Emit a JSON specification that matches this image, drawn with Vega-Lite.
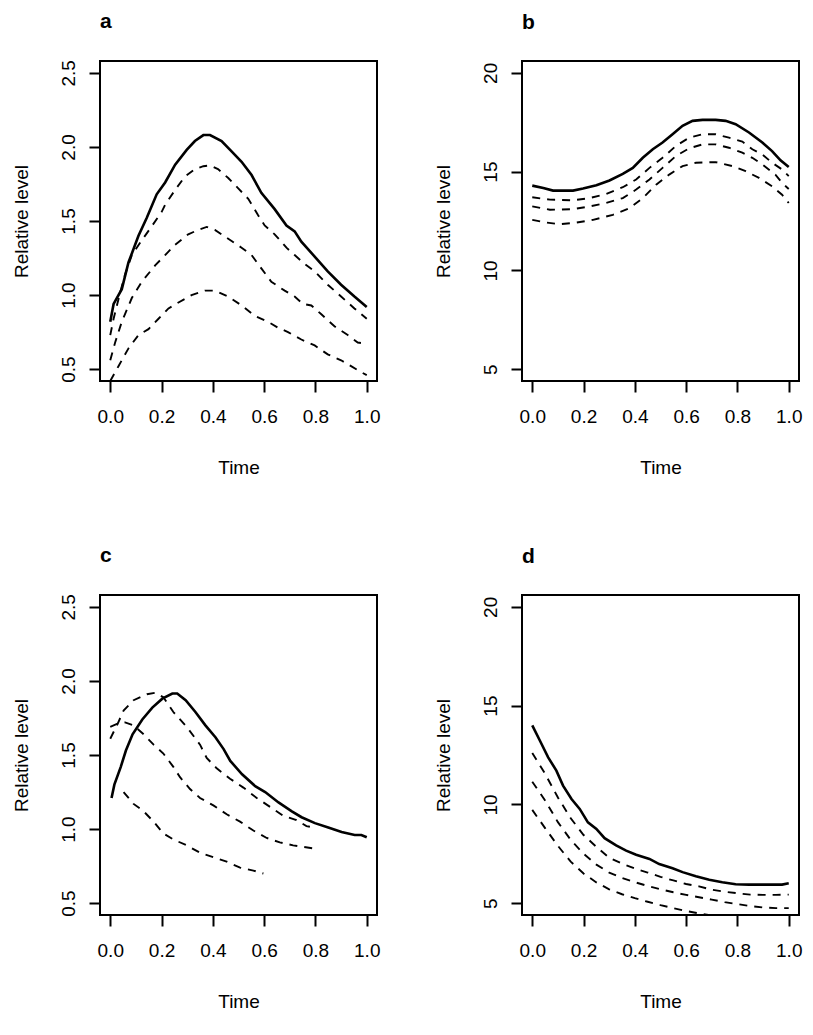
{
  "$schema": "https://vega.github.io/schema/vega-lite/v6.json",
  "autosize": {"type": "pad"},
  "padding": {"left": 11, "top": 9, "right": 10, "bottom": 10},
  "background": "white",
  "config": {
    "font": "Liberation Sans",
    "view": {"stroke": "black", "strokeWidth": 2},
    "axis": {"domain": false, "grid": false, "tickColor": "black", "tickWidth": 2, "tickSize": 11,
      "labelColor": "black", "labelFont": "Liberation Sans", "labelFontSize": 19, "labelFlush": false, "labelOverlap": false,
      "titleFont": "Liberation Sans", "titleFontSize": 19, "titleFontWeight": "normal", "titleColor": "black"},
    "axisX": {"labelPadding": 15, "labelBaseline": "top", "labelAngle": 0, "titleY": 92, "titleBaseline": "alphabetic"},
    "axisY": {"labelAngle": 270, "labelAlign": "center", "labelBaseline": "alphabetic", "labelPadding": 15,
      "titleX": -73, "titleY": 160, "titleAngle": 270, "titleAlign": "center", "titleBaseline": "alphabetic"},
    "title": {"anchor": "start", "frame": "group", "fontSize": 21, "fontWeight": "bold", "font": "Liberation Sans", "color": "black", "baseline": "alphabetic", "offset": 28}
  },
  "datasets": {
    "curves": [
      {"panel":"a","series":"solid","time":0,"level":0.82},{"panel":"a","series":"solid","time":0.013,"level":0.94},{"panel":"a","series":"solid","time":0.045,"level":1.04},{"panel":"a","series":"solid","time":0.071,"level":1.22},{"panel":"a","series":"solid","time":0.11,"level":1.4},{"panel":"a","series":"solid","time":0.142,"level":1.52},{"panel":"a","series":"solid","time":0.181,"level":1.68},{"panel":"a","series":"solid","time":0.214,"level":1.76},{"panel":"a","series":"solid","time":0.253,"level":1.88},{"panel":"a","series":"solid","time":0.298,"level":1.98},{"panel":"a","series":"solid","time":0.33,"level":2.04},{"panel":"a","series":"solid","time":0.363,"level":2.08},{"panel":"a","series":"solid","time":0.389,"level":2.08},{"panel":"a","series":"solid","time":0.434,"level":2.04},{"panel":"a","series":"solid","time":0.473,"level":1.97},{"panel":"a","series":"solid","time":0.512,"level":1.9},{"panel":"a","series":"solid","time":0.551,"level":1.81},{"panel":"a","series":"solid","time":0.589,"level":1.69},{"panel":"a","series":"solid","time":0.641,"level":1.58},{"panel":"a","series":"solid","time":0.687,"level":1.47},{"panel":"a","series":"solid","time":0.719,"level":1.43},{"panel":"a","series":"solid","time":0.745,"level":1.36},{"panel":"a","series":"solid","time":0.797,"level":1.26},{"panel":"a","series":"solid","time":0.848,"level":1.16},{"panel":"a","series":"solid","time":0.9,"level":1.07},{"panel":"a","series":"solid","time":0.952,"level":0.99},{"panel":"a","series":"solid","time":1.0,"level":0.92},
      {"panel":"a","series":"d1","time":0,"level":0.73},{"panel":"a","series":"d1","time":0.013,"level":0.84},{"panel":"a","series":"d1","time":0.039,"level":1.02},{"panel":"a","series":"d1","time":0.058,"level":1.14},{"panel":"a","series":"d1","time":0.084,"level":1.27},{"panel":"a","series":"d1","time":0.123,"level":1.37},{"panel":"a","series":"d1","time":0.16,"level":1.46},{"panel":"a","series":"d1","time":0.2,"level":1.56},{"panel":"a","series":"d1","time":0.214,"level":1.61},{"panel":"a","series":"d1","time":0.253,"level":1.71},{"panel":"a","series":"d1","time":0.291,"level":1.8},{"panel":"a","series":"d1","time":0.33,"level":1.85},{"panel":"a","series":"d1","time":0.363,"level":1.87},{"panel":"a","series":"d1","time":0.389,"level":1.875},{"panel":"a","series":"d1","time":0.42,"level":1.85},{"panel":"a","series":"d1","time":0.46,"level":1.79},{"panel":"a","series":"d1","time":0.499,"level":1.72},{"panel":"a","series":"d1","time":0.538,"level":1.65},{"panel":"a","series":"d1","time":0.576,"level":1.54},{"panel":"a","series":"d1","time":0.602,"level":1.47},{"panel":"a","series":"d1","time":0.641,"level":1.41},{"panel":"a","series":"d1","time":0.687,"level":1.32},{"panel":"a","series":"d1","time":0.719,"level":1.27},{"panel":"a","series":"d1","time":0.758,"level":1.21},{"panel":"a","series":"d1","time":0.797,"level":1.16},{"panel":"a","series":"d1","time":0.848,"level":1.07},{"panel":"a","series":"d1","time":0.9,"level":0.99},{"panel":"a","series":"d1","time":0.952,"level":0.91},{"panel":"a","series":"d1","time":1.0,"level":0.84},
      {"panel":"a","series":"d2","time":0,"level":0.56},{"panel":"a","series":"d2","time":0.019,"level":0.68},{"panel":"a","series":"d2","time":0.045,"level":0.82},{"panel":"a","series":"d2","time":0.084,"level":0.98},{"panel":"a","series":"d2","time":0.123,"level":1.09},{"panel":"a","series":"d2","time":0.175,"level":1.2},{"panel":"a","series":"d2","time":0.214,"level":1.27},{"panel":"a","series":"d2","time":0.253,"level":1.34},{"panel":"a","series":"d2","time":0.304,"level":1.41},{"panel":"a","series":"d2","time":0.343,"level":1.44},{"panel":"a","series":"d2","time":0.376,"level":1.46},{"panel":"a","series":"d2","time":0.408,"level":1.44},{"panel":"a","series":"d2","time":0.46,"level":1.38},{"panel":"a","series":"d2","time":0.512,"level":1.32},{"panel":"a","series":"d2","time":0.551,"level":1.27},{"panel":"a","series":"d2","time":0.589,"level":1.18},{"panel":"a","series":"d2","time":0.628,"level":1.09},{"panel":"a","series":"d2","time":0.68,"level":1.03},{"panel":"a","series":"d2","time":0.719,"level":0.99},{"panel":"a","series":"d2","time":0.751,"level":0.94},{"panel":"a","series":"d2","time":0.784,"level":0.93},{"panel":"a","series":"d2","time":0.823,"level":0.87},{"panel":"a","series":"d2","time":0.874,"level":0.79},{"panel":"a","series":"d2","time":0.926,"level":0.73},{"panel":"a","series":"d2","time":0.965,"level":0.68},{"panel":"a","series":"d2","time":1.0,"level":0.67},
      {"panel":"a","series":"d3","time":0,"level":0.42},{"panel":"a","series":"d3","time":0.032,"level":0.52},{"panel":"a","series":"d3","time":0.071,"level":0.64},{"panel":"a","series":"d3","time":0.11,"level":0.73},{"panel":"a","series":"d3","time":0.149,"level":0.77},{"panel":"a","series":"d3","time":0.188,"level":0.84},{"panel":"a","series":"d3","time":0.227,"level":0.91},{"panel":"a","series":"d3","time":0.266,"level":0.95},{"panel":"a","series":"d3","time":0.317,"level":1.0},{"panel":"a","series":"d3","time":0.369,"level":1.03},{"panel":"a","series":"d3","time":0.408,"level":1.03},{"panel":"a","series":"d3","time":0.46,"level":0.99},{"panel":"a","series":"d3","time":0.512,"level":0.93},{"panel":"a","series":"d3","time":0.563,"level":0.86},{"panel":"a","series":"d3","time":0.615,"level":0.82},{"panel":"a","series":"d3","time":0.654,"level":0.78},{"panel":"a","series":"d3","time":0.693,"level":0.75},{"panel":"a","series":"d3","time":0.745,"level":0.7},{"panel":"a","series":"d3","time":0.797,"level":0.66},{"panel":"a","series":"d3","time":0.848,"level":0.6},{"panel":"a","series":"d3","time":0.9,"level":0.56},{"panel":"a","series":"d3","time":0.939,"level":0.52},{"panel":"a","series":"d3","time":0.978,"level":0.48},{"panel":"a","series":"d3","time":1.0,"level":0.46},

      {"panel":"b","series":"solid","time":0,"level":14.29},{"panel":"b","series":"solid","time":0.043,"level":14.17},{"panel":"b","series":"solid","time":0.081,"level":14.04},{"panel":"b","series":"solid","time":0.159,"level":14.04},{"panel":"b","series":"solid","time":0.198,"level":14.14},{"panel":"b","series":"solid","time":0.25,"level":14.31},{"panel":"b","series":"solid","time":0.301,"level":14.55},{"panel":"b","series":"solid","time":0.353,"level":14.89},{"panel":"b","series":"solid","time":0.392,"level":15.19},{"panel":"b","series":"solid","time":0.431,"level":15.7},{"panel":"b","series":"solid","time":0.47,"level":16.13},{"panel":"b","series":"solid","time":0.508,"level":16.47},{"panel":"b","series":"solid","time":0.547,"level":16.89},{"panel":"b","series":"solid","time":0.586,"level":17.32},{"panel":"b","series":"solid","time":0.625,"level":17.57},{"panel":"b","series":"solid","time":0.664,"level":17.62},{"panel":"b","series":"solid","time":0.715,"level":17.62},{"panel":"b","series":"solid","time":0.754,"level":17.57},{"panel":"b","series":"solid","time":0.793,"level":17.4},{"panel":"b","series":"solid","time":0.845,"level":16.98},{"panel":"b","series":"solid","time":0.897,"level":16.47},{"panel":"b","series":"solid","time":0.935,"level":16.04},{"panel":"b","series":"solid","time":0.968,"level":15.57},{"panel":"b","series":"solid","time":1.0,"level":15.23},
      {"panel":"b","series":"d1","time":0,"level":13.7},{"panel":"b","series":"d1","time":0.069,"level":13.58},{"panel":"b","series":"d1","time":0.159,"level":13.55},{"panel":"b","series":"d1","time":0.224,"level":13.66},{"panel":"b","series":"d1","time":0.288,"level":13.87},{"panel":"b","series":"d1","time":0.353,"level":14.21},{"panel":"b","series":"d1","time":0.405,"level":14.6},{"panel":"b","series":"d1","time":0.457,"level":15.19},{"panel":"b","series":"d1","time":0.508,"level":15.7},{"panel":"b","series":"d1","time":0.56,"level":16.3},{"panel":"b","series":"d1","time":0.612,"level":16.72},{"panel":"b","series":"d1","time":0.664,"level":16.89},{"panel":"b","series":"d1","time":0.715,"level":16.89},{"panel":"b","series":"d1","time":0.767,"level":16.72},{"panel":"b","series":"d1","time":0.819,"level":16.52},{"panel":"b","series":"d1","time":0.858,"level":16.13},{"panel":"b","series":"d1","time":0.897,"level":15.87},{"panel":"b","series":"d1","time":0.935,"level":15.45},{"panel":"b","series":"d1","time":0.974,"level":15.11},{"panel":"b","series":"d1","time":1.0,"level":14.77},
      {"panel":"b","series":"d2","time":0,"level":13.24},{"panel":"b","series":"d2","time":0.069,"level":13.07},{"panel":"b","series":"d2","time":0.159,"level":13.1},{"panel":"b","series":"d2","time":0.224,"level":13.24},{"panel":"b","series":"d2","time":0.288,"level":13.41},{"panel":"b","series":"d2","time":0.353,"level":13.66},{"panel":"b","series":"d2","time":0.405,"level":14.09},{"panel":"b","series":"d2","time":0.457,"level":14.6},{"panel":"b","series":"d2","time":0.508,"level":15.19},{"panel":"b","series":"d2","time":0.56,"level":15.79},{"panel":"b","series":"d2","time":0.612,"level":16.18},{"panel":"b","series":"d2","time":0.664,"level":16.38},{"panel":"b","series":"d2","time":0.715,"level":16.38},{"panel":"b","series":"d2","time":0.767,"level":16.21},{"panel":"b","series":"d2","time":0.819,"level":15.96},{"panel":"b","series":"d2","time":0.858,"level":15.7},{"panel":"b","series":"d2","time":0.897,"level":15.36},{"panel":"b","series":"d2","time":0.948,"level":14.85},{"panel":"b","series":"d2","time":0.974,"level":14.43},{"panel":"b","series":"d2","time":1.0,"level":14.12},
      {"panel":"b","series":"d3","time":0,"level":12.56},{"panel":"b","series":"d3","time":0.056,"level":12.42},{"panel":"b","series":"d3","time":0.107,"level":12.34},{"panel":"b","series":"d3","time":0.172,"level":12.42},{"panel":"b","series":"d3","time":0.237,"level":12.56},{"panel":"b","series":"d3","time":0.314,"level":12.81},{"panel":"b","series":"d3","time":0.379,"level":13.15},{"panel":"b","series":"d3","time":0.431,"level":13.66},{"panel":"b","series":"d3","time":0.483,"level":14.34},{"panel":"b","series":"d3","time":0.534,"level":14.85},{"panel":"b","series":"d3","time":0.586,"level":15.28},{"panel":"b","series":"d3","time":0.638,"level":15.45},{"panel":"b","series":"d3","time":0.715,"level":15.48},{"panel":"b","series":"d3","time":0.78,"level":15.28},{"panel":"b","series":"d3","time":0.832,"level":15.02},{"panel":"b","series":"d3","time":0.884,"level":14.68},{"panel":"b","series":"d3","time":0.935,"level":14.26},{"panel":"b","series":"d3","time":0.974,"level":13.83},{"panel":"b","series":"d3","time":1.0,"level":13.41},

      {"panel":"c","series":"solid","time":0.005,"level":1.21},{"panel":"c","series":"solid","time":0.016,"level":1.3},{"panel":"c","series":"solid","time":0.041,"level":1.42},{"panel":"c","series":"solid","time":0.061,"level":1.53},{"panel":"c","series":"solid","time":0.087,"level":1.64},{"panel":"c","series":"solid","time":0.125,"level":1.74},{"panel":"c","series":"solid","time":0.164,"level":1.82},{"panel":"c","series":"solid","time":0.203,"level":1.88},{"panel":"c","series":"solid","time":0.242,"level":1.915},{"panel":"c","series":"solid","time":0.261,"level":1.915},{"panel":"c","series":"solid","time":0.294,"level":1.87},{"panel":"c","series":"solid","time":0.332,"level":1.79},{"panel":"c","series":"solid","time":0.371,"level":1.7},{"panel":"c","series":"solid","time":0.41,"level":1.62},{"panel":"c","series":"solid","time":0.442,"level":1.54},{"panel":"c","series":"solid","time":0.468,"level":1.46},{"panel":"c","series":"solid","time":0.514,"level":1.37},{"panel":"c","series":"solid","time":0.565,"level":1.29},{"panel":"c","series":"solid","time":0.604,"level":1.25},{"panel":"c","series":"solid","time":0.656,"level":1.18},{"panel":"c","series":"solid","time":0.708,"level":1.12},{"panel":"c","series":"solid","time":0.746,"level":1.08},{"panel":"c","series":"solid","time":0.798,"level":1.04},{"panel":"c","series":"solid","time":0.85,"level":1.01},{"panel":"c","series":"solid","time":0.902,"level":0.98},{"panel":"c","series":"solid","time":0.953,"level":0.96},{"panel":"c","series":"solid","time":0.979,"level":0.96},{"panel":"c","series":"solid","time":1.0,"level":0.945},
      {"panel":"c","series":"d1","time":0,"level":1.61},{"panel":"c","series":"d1","time":0.026,"level":1.7},{"panel":"c","series":"d1","time":0.052,"level":1.8},{"panel":"c","series":"d1","time":0.091,"level":1.87},{"panel":"c","series":"d1","time":0.143,"level":1.91},{"panel":"c","series":"d1","time":0.175,"level":1.92},{"panel":"c","series":"d1","time":0.207,"level":1.89},{"panel":"c","series":"d1","time":0.246,"level":1.79},{"panel":"c","series":"d1","time":0.298,"level":1.69},{"panel":"c","series":"d1","time":0.35,"level":1.57},{"panel":"c","series":"d1","time":0.376,"level":1.48},{"panel":"c","series":"d1","time":0.415,"level":1.41},{"panel":"c","series":"d1","time":0.467,"level":1.34},{"panel":"c","series":"d1","time":0.519,"level":1.28},{"panel":"c","series":"d1","time":0.571,"level":1.21},{"panel":"c","series":"d1","time":0.623,"level":1.15},{"panel":"c","series":"d1","time":0.674,"level":1.09},{"panel":"c","series":"d1","time":0.726,"level":1.06},{"panel":"c","series":"d1","time":0.765,"level":1.02},{"panel":"c","series":"d1","time":0.798,"level":1.01},
      {"panel":"c","series":"d2","time":0,"level":1.69},{"panel":"c","series":"d2","time":0.026,"level":1.71},{"panel":"c","series":"d2","time":0.058,"level":1.72},{"panel":"c","series":"d2","time":0.091,"level":1.7},{"panel":"c","series":"d2","time":0.13,"level":1.64},{"panel":"c","series":"d2","time":0.169,"level":1.57},{"panel":"c","series":"d2","time":0.207,"level":1.51},{"panel":"c","series":"d2","time":0.246,"level":1.42},{"panel":"c","series":"d2","time":0.272,"level":1.35},{"panel":"c","series":"d2","time":0.311,"level":1.27},{"panel":"c","series":"d2","time":0.35,"level":1.21},{"panel":"c","series":"d2","time":0.402,"level":1.16},{"panel":"c","series":"d2","time":0.454,"level":1.1},{"panel":"c","series":"d2","time":0.506,"level":1.05},{"panel":"c","series":"d2","time":0.558,"level":0.99},{"panel":"c","series":"d2","time":0.61,"level":0.94},{"panel":"c","series":"d2","time":0.661,"level":0.91},{"panel":"c","series":"d2","time":0.713,"level":0.89},{"panel":"c","series":"d2","time":0.752,"level":0.88},{"panel":"c","series":"d2","time":0.791,"level":0.87},
      {"panel":"c","series":"d3","time":0.052,"level":1.25},{"panel":"c","series":"d3","time":0.091,"level":1.17},{"panel":"c","series":"d3","time":0.13,"level":1.12},{"panel":"c","series":"d3","time":0.169,"level":1.05},{"panel":"c","series":"d3","time":0.207,"level":0.97},{"panel":"c","series":"d3","time":0.246,"level":0.93},{"panel":"c","series":"d3","time":0.298,"level":0.89},{"panel":"c","series":"d3","time":0.35,"level":0.84},{"panel":"c","series":"d3","time":0.402,"level":0.81},{"panel":"c","series":"d3","time":0.454,"level":0.78},{"panel":"c","series":"d3","time":0.506,"level":0.74},{"panel":"c","series":"d3","time":0.558,"level":0.72},{"panel":"c","series":"d3","time":0.597,"level":0.7},

      {"panel":"d","series":"solid","time":0,"level":14.0},{"panel":"d","series":"solid","time":0.03,"level":13.22},{"panel":"d","series":"solid","time":0.062,"level":12.38},{"panel":"d","series":"solid","time":0.094,"level":11.71},{"panel":"d","series":"solid","time":0.12,"level":10.95},{"panel":"d","series":"solid","time":0.153,"level":10.27},{"panel":"d","series":"solid","time":0.185,"level":9.77},{"panel":"d","series":"solid","time":0.217,"level":9.09},{"panel":"d","series":"solid","time":0.25,"level":8.76},{"panel":"d","series":"solid","time":0.282,"level":8.29},{"panel":"d","series":"solid","time":0.327,"level":7.92},{"panel":"d","series":"solid","time":0.366,"level":7.66},{"panel":"d","series":"solid","time":0.405,"level":7.45},{"panel":"d","series":"solid","time":0.457,"level":7.24},{"panel":"d","series":"solid","time":0.495,"level":6.98},{"panel":"d","series":"solid","time":0.547,"level":6.77},{"panel":"d","series":"solid","time":0.586,"level":6.57},{"panel":"d","series":"solid","time":0.638,"level":6.36},{"panel":"d","series":"solid","time":0.69,"level":6.18},{"panel":"d","series":"solid","time":0.741,"level":6.06},{"panel":"d","series":"solid","time":0.793,"level":5.96},{"panel":"d","series":"solid","time":0.845,"level":5.94},{"panel":"d","series":"solid","time":0.922,"level":5.94},{"panel":"d","series":"solid","time":0.974,"level":5.94},{"panel":"d","series":"solid","time":1.0,"level":6.01},
      {"panel":"d","series":"d1","time":0,"level":12.6},{"panel":"d","series":"d1","time":0.05,"level":11.55},{"panel":"d","series":"d1","time":0.1,"level":10.35},{"panel":"d","series":"d1","time":0.15,"level":9.3},{"panel":"d","series":"d1","time":0.2,"level":8.45},{"panel":"d","series":"d1","time":0.25,"level":7.85},{"panel":"d","series":"d1","time":0.3,"level":7.3},{"panel":"d","series":"d1","time":0.35,"level":7.0},{"panel":"d","series":"d1","time":0.4,"level":6.75},{"panel":"d","series":"d1","time":0.45,"level":6.55},{"panel":"d","series":"d1","time":0.5,"level":6.33},{"panel":"d","series":"d1","time":0.55,"level":6.15},{"panel":"d","series":"d1","time":0.6,"level":5.97},{"panel":"d","series":"d1","time":0.65,"level":5.85},{"panel":"d","series":"d1","time":0.7,"level":5.68},{"panel":"d","series":"d1","time":0.75,"level":5.58},{"panel":"d","series":"d1","time":0.8,"level":5.5},{"panel":"d","series":"d1","time":0.85,"level":5.43},{"panel":"d","series":"d1","time":0.9,"level":5.42},{"panel":"d","series":"d1","time":0.95,"level":5.42},{"panel":"d","series":"d1","time":1.0,"level":5.43},
      {"panel":"d","series":"d2","time":0,"level":11.15},{"panel":"d","series":"d2","time":0.05,"level":10.2},{"panel":"d","series":"d2","time":0.1,"level":9.1},{"panel":"d","series":"d2","time":0.15,"level":8.2},{"panel":"d","series":"d2","time":0.2,"level":7.5},{"panel":"d","series":"d2","time":0.25,"level":6.95},{"panel":"d","series":"d2","time":0.3,"level":6.55},{"panel":"d","series":"d2","time":0.35,"level":6.28},{"panel":"d","series":"d2","time":0.4,"level":6.06},{"panel":"d","series":"d2","time":0.45,"level":5.87},{"panel":"d","series":"d2","time":0.5,"level":5.7},{"panel":"d","series":"d2","time":0.55,"level":5.55},{"panel":"d","series":"d2","time":0.6,"level":5.42},{"panel":"d","series":"d2","time":0.65,"level":5.3},{"panel":"d","series":"d2","time":0.7,"level":5.18},{"panel":"d","series":"d2","time":0.75,"level":5.05},{"panel":"d","series":"d2","time":0.8,"level":4.95},{"panel":"d","series":"d2","time":0.85,"level":4.85},{"panel":"d","series":"d2","time":0.9,"level":4.78},{"panel":"d","series":"d2","time":0.95,"level":4.75},{"panel":"d","series":"d2","time":1.0,"level":4.75},
      {"panel":"d","series":"d3","time":0,"level":9.72},{"panel":"d","series":"d3","time":0.05,"level":8.8},{"panel":"d","series":"d3","time":0.1,"level":7.9},{"panel":"d","series":"d3","time":0.15,"level":7.1},{"panel":"d","series":"d3","time":0.2,"level":6.5},{"panel":"d","series":"d3","time":0.25,"level":6.05},{"panel":"d","series":"d3","time":0.3,"level":5.7},{"panel":"d","series":"d3","time":0.35,"level":5.45},{"panel":"d","series":"d3","time":0.4,"level":5.25},{"panel":"d","series":"d3","time":0.45,"level":5.07},{"panel":"d","series":"d3","time":0.5,"level":4.9},{"panel":"d","series":"d3","time":0.55,"level":4.75},{"panel":"d","series":"d3","time":0.6,"level":4.6},{"panel":"d","series":"d3","time":0.65,"level":4.48},{"panel":"d","series":"d3","time":0.7,"level":4.38},{"panel":"d","series":"d3","time":0.75,"level":4.3},{"panel":"d","series":"d3","time":0.8,"level":4.22},{"panel":"d","series":"d3","time":0.9,"level":4.12},{"panel":"d","series":"d3","time":1.0,"level":4.08}
    ]
  },
  "columns": 2,
  "spacing": {"row": 214, "column": 145},
  "bounds": "flush",
  "concat": [
    {
      "title": {"text": "a"},
      "width": 277, "height": 320,
      "data": {"name": "curves"},
      "transform": [{"filter": "datum.panel === 'a'"}],
      "encoding": {
        "x": {"field": "time", "type": "quantitative", "scale": {"domain": [-0.04, 1.04], "nice": false, "zero": false}, "axis": {"values": [0, 0.2, 0.4, 0.6, 0.8, 1.0], "format": ".1f", "title": "Time"}},
        "y": {"field": "level", "type": "quantitative", "scale": {"domain": [0.42, 2.58], "nice": false, "zero": false}, "axis": {"values": [0.5, 1.0, 1.5, 2.0, 2.5], "format": ".1f", "title": "Relative level"}}
      },
      "layer": [
        {"transform": [{"filter": "datum.series === 'solid'"}], "mark": {"type": "line", "color": "black", "strokeWidth": 2.6, "clip": true}},
        {"transform": [{"filter": "datum.series !== 'solid'"}], "mark": {"type": "line", "color": "black", "strokeWidth": 1.9, "strokeDash": [8, 7], "clip": true}, "encoding": {"detail": {"field": "series"}}}
      ]
    },
    {
      "title": {"text": "b"},
      "width": 277, "height": 320,
      "data": {"name": "curves"},
      "transform": [{"filter": "datum.panel === 'b'"}],
      "encoding": {
        "x": {"field": "time", "type": "quantitative", "scale": {"domain": [-0.04, 1.04], "nice": false, "zero": false}, "axis": {"values": [0, 0.2, 0.4, 0.6, 0.8, 1.0], "format": ".1f", "title": "Time"}},
        "y": {"field": "level", "type": "quantitative", "scale": {"domain": [4.4, 20.6], "nice": false, "zero": false}, "axis": {"values": [5, 10, 15, 20], "format": "d", "title": "Relative level"}}
      },
      "layer": [
        {"transform": [{"filter": "datum.series === 'solid'"}], "mark": {"type": "line", "color": "black", "strokeWidth": 2.6, "clip": true}},
        {"transform": [{"filter": "datum.series !== 'solid'"}], "mark": {"type": "line", "color": "black", "strokeWidth": 1.9, "strokeDash": [8, 7], "clip": true}, "encoding": {"detail": {"field": "series"}}}
      ]
    },
    {
      "title": {"text": "c"},
      "width": 277, "height": 320,
      "data": {"name": "curves"},
      "transform": [{"filter": "datum.panel === 'c'"}],
      "encoding": {
        "x": {"field": "time", "type": "quantitative", "scale": {"domain": [-0.04, 1.04], "nice": false, "zero": false}, "axis": {"values": [0, 0.2, 0.4, 0.6, 0.8, 1.0], "format": ".1f", "title": "Time"}},
        "y": {"field": "level", "type": "quantitative", "scale": {"domain": [0.42, 2.58], "nice": false, "zero": false}, "axis": {"values": [0.5, 1.0, 1.5, 2.0, 2.5], "format": ".1f", "title": "Relative level"}}
      },
      "layer": [
        {"transform": [{"filter": "datum.series === 'solid'"}], "mark": {"type": "line", "color": "black", "strokeWidth": 2.6, "clip": true}},
        {"transform": [{"filter": "datum.series !== 'solid'"}], "mark": {"type": "line", "color": "black", "strokeWidth": 1.9, "strokeDash": [8, 7], "clip": true}, "encoding": {"detail": {"field": "series"}}}
      ]
    },
    {
      "title": {"text": "d"},
      "width": 277, "height": 320,
      "data": {"name": "curves"},
      "transform": [{"filter": "datum.panel === 'd'"}],
      "encoding": {
        "x": {"field": "time", "type": "quantitative", "scale": {"domain": [-0.04, 1.04], "nice": false, "zero": false}, "axis": {"values": [0, 0.2, 0.4, 0.6, 0.8, 1.0], "format": ".1f", "title": "Time"}},
        "y": {"field": "level", "type": "quantitative", "scale": {"domain": [4.4, 20.6], "nice": false, "zero": false}, "axis": {"values": [5, 10, 15, 20], "format": "d", "title": "Relative level"}}
      },
      "layer": [
        {"transform": [{"filter": "datum.series === 'solid'"}], "mark": {"type": "line", "color": "black", "strokeWidth": 2.6, "clip": true}},
        {"transform": [{"filter": "datum.series !== 'solid'"}], "mark": {"type": "line", "color": "black", "strokeWidth": 1.9, "strokeDash": [8, 7], "clip": true}, "encoding": {"detail": {"field": "series"}}}
      ]
    }
  ]
}
